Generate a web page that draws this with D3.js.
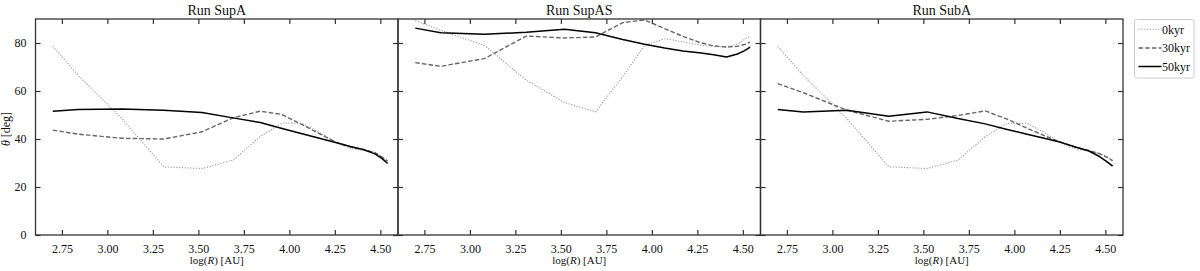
<!DOCTYPE html>
<html><head><meta charset="utf-8">
<script src="https://cdn.jsdelivr.net/npm/d3@7"></script>
<style>
html,body{margin:0;padding:0;background:#fff;}
svg, svg text{font-family:"Liberation Serif","Times New Roman",Times,serif !important;}
svg{display:block;}
</style></head>
<body><svg id="c" width="1200" height="271"></svg>
<script>
// ---- data ----
const logR = [2.70, 2.84, 3.08, 3.31, 3.52, 3.69, 3.84, 3.96, 4.07, 4.17, 4.26, 4.34, 4.41, 4.47, 4.51, 4.54];
const panelTitles = ["Run SupA", "Run SupAS", "Run SubA"];
const seriesNames = ["0kyr", "30kyr", "50kyr"];
const xTicks = [2.75, 3.00, 3.25, 3.50, 3.75, 4.00, 4.25, 4.50];
const yTicks = [0, 20, 40, 60, 80];

const supA_0  = [78.6, 66.5, 48.5, 28.4, 27.7, 31.2, 41.0, 46.7, 46.5, 42.5, 38.5, 36.0, 35.2, 34.5, 32.5, 30.5];
const supA_30 = [43.7, 42.0, 40.3, 40.0, 43.0, 48.8, 51.6, 50.2, 46.0, 42.0, 38.5, 36.6, 35.6, 34.3, 32.5, 30.8];
const supA_50 = [51.6, 52.3, 52.5, 52.0, 51.0, 48.8, 46.9, 44.4, 42.2, 40.2, 38.4, 36.8, 35.5, 33.8, 31.8, 29.8];

const supAS_0  = [89.4, 85.3, 79.0, 64.5, 55.2, 51.3, 66.0, 79.0, 81.8, 80.5, 79.2, 78.6, 78.3, 79.5, 81.5, 82.8];
const supAS_30 = [71.8, 70.3, 73.5, 82.9, 82.1, 82.5, 88.5, 89.6, 86.0, 82.8, 80.3, 78.8, 78.3, 78.6, 79.4, 80.4];
const supAS_50 = [86.2, 84.3, 83.6, 84.5, 85.7, 84.3, 81.5, 79.5, 77.9, 76.7, 75.9, 75.1, 74.2, 75.4, 76.8, 78.3];

const subA_0  = [78.6, 66.5, 48.5, 28.4, 27.7, 31.2, 41.0, 46.5, 46.5, 42.5, 38.0, 35.8, 35.0, 34.0, 32.5, 30.9];
const subA_30 = [63.1, 59.3, 52.0, 47.4, 48.2, 49.8, 51.7, 48.3, 44.5, 41.2, 38.5, 36.5, 35.2, 33.8, 32.3, 31.0];
const subA_50 = [52.3, 51.3, 52.0, 49.5, 51.3, 48.5, 46.3, 44.0, 42.0, 40.2, 38.5, 36.6, 35.0, 32.6, 30.5, 28.7];

const panelSeries = [[supA_0, supA_30, supA_50], [supAS_0, supAS_30, supAS_50], [subA_0, subA_30, subA_50]];

// ---- layout / styles ----
const styles = [
  {stroke: "#9a9a9a", width: 1.1, dash: "1.2,1.6"},
  {stroke: "#666666", width: 1.4, dash: "4.5,2.2"},
  {stroke: "#000000", width: 1.5, dash: null}
];
const plotTop = 19, plotBottom = 235, left0 = 35.5, pw = 362.5;
const axisColor = "#333";
const serif = '"Liberation Serif","Times New Roman",Times,serif';

const svg = d3.select("#c");
const y = d3.scaleLinear().domain([0, 90]).range([plotBottom, plotTop]);

panelTitles.forEach((title, p) => {
  const L = left0 + p * pw, R = L + pw;
  const x = d3.scaleLinear().domain([2.605, 4.597]).range([L, R]);
  const g = svg.append("g");

  const line = d3.line().x((d, i) => x(logR[i])).y(d => y(d));
  panelSeries[p].forEach((vals, s) => {
    g.append("path").datum(vals)
      .attr("d", line)
      .attr("fill", "none")
      .attr("stroke", styles[s].stroke)
      .attr("stroke-width", styles[s].width)
      .attr("stroke-dasharray", styles[s].dash)
      .attr("stroke-linejoin", "round");
  });

  const tl = 5;
  const bAx = g.append("g").attr("transform", `translate(0,${plotBottom})`)
    .call(d3.axisBottom(x).tickValues(xTicks).tickFormat(d3.format(".2f")).tickSizeInner(-tl).tickSizeOuter(0).tickPadding(9));
  const tAx = g.append("g").attr("transform", `translate(0,${plotTop})`)
    .call(d3.axisTop(x).tickValues(xTicks).tickFormat("").tickSizeInner(-tl).tickSizeOuter(0));
  const lAx = g.append("g").attr("transform", `translate(${L},0)`)
    .call(d3.axisLeft(y).tickValues(yTicks).tickFormat(p === 0 ? d3.format("d") : "").tickSizeInner(-tl).tickSizeOuter(0).tickPadding(9));
  const rAx = g.append("g").attr("transform", `translate(${R},0)`)
    .call(d3.axisRight(y).tickValues(yTicks).tickFormat("").tickSizeInner(-tl).tickSizeOuter(0));
  [bAx, tAx, lAx, rAx].forEach(a => {
    a.attr("font-family", null).attr("font-size", null);
    a.select(".domain").remove();
    a.selectAll("line").attr("stroke", axisColor).attr("stroke-width", 1.2);
    a.selectAll("text").style("font-family", serif).style("font-size", "12px").attr("fill", "#111");
  });

  g.append("rect").attr("x", L).attr("y", plotTop).attr("width", pw).attr("height", plotBottom - plotTop)
    .attr("fill", "none").attr("stroke", axisColor).attr("stroke-width", 1.3);

  g.append("text").attr("x", (L + R) / 2).attr("y", 14.5).attr("text-anchor", "middle")
    .style("font-family", serif).style("font-size", "14px").attr("fill", "#111").text(title);

  const xl = g.append("text").attr("x", (L + R) / 2).attr("y", 264).attr("text-anchor", "middle")
    .style("font-family", serif).style("font-size", "11px").attr("fill", "#111");
  xl.append("tspan").text("log(");
  xl.append("tspan").attr("font-style", "italic").text("R");
  xl.append("tspan").text(") [AU]");
});

const yl = svg.append("text").attr("transform", `translate(9.5,${(plotTop + plotBottom) / 2 + 2}) rotate(-90)`)
  .attr("text-anchor", "middle").style("font-family", serif).style("font-size", "12px").attr("fill", "#111");
yl.append("tspan").attr("font-style", "italic").text("θ");
yl.append("tspan").text(" [deg]");

const lg = svg.append("g");
lg.append("rect").attr("x", 1134.5).attr("y", 19.5).attr("width", 59.5).attr("height", 58.5)
  .attr("rx", 2).attr("fill", "#fff").attr("stroke", "#cccccc").attr("stroke-width", 1);
const rowY = [29.3, 48.0, 66.5];
seriesNames.forEach((name, s) => {
  lg.append("line").attr("x1", 1138.5).attr("x2", 1161.5).attr("y1", rowY[s]).attr("y2", rowY[s])
    .attr("stroke", styles[s].stroke).attr("stroke-width", styles[s].width)
    .attr("stroke-dasharray", styles[s].dash);
  lg.append("text").attr("x", 1162).attr("y", rowY[s]).attr("dy", "0.35em")
    .style("font-family", serif).style("font-size", "12px").attr("fill", "#111").text(name);
});
</script></body></html>
